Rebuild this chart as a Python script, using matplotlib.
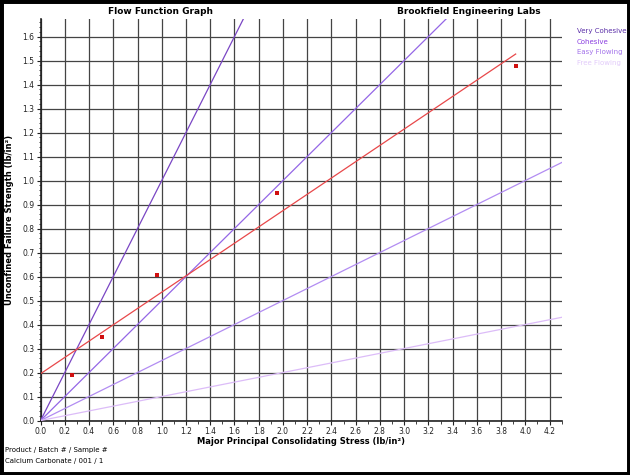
import matplotlib.pyplot as plt
from matplotlib.ticker import MultipleLocator
from matplotlib.patches import Rectangle
import numpy as np

# --- data
sample_x = [0.256, 0.51, 0.964, 1.95, 3.92]
sample_y = [0.188, 0.346, 0.607, 0.946, 1.476]
fit_x = [0.0, 3.92]
fit_y = [0.195, 1.527]

# flow function class boundaries (ffc), line y = x / ffc
class_names = ["Very Cohesive", "Cohesive", "Easy Flowing", "Free Flowing"]
class_ffc = [1, 2, 4, 10]
class_line_colors = ["#7a46c4", "#9466e6", "#b28cf2", "#dcbcf8"]
class_text_colors = ["#5a2ea8", "#8a3ee0", "#a474ea", "#e2cbfa"]

x_max = 4.3
y_max = 1.675

fig = plt.figure(figsize=(6.3, 4.75), dpi=100)
ax = fig.add_axes([0.0644, 0.1147, 0.8272, 0.8463])
ax.set_xlim(0, x_max)
ax.set_ylim(0, y_max)

ax.xaxis.set_major_locator(MultipleLocator(0.2))
ax.xaxis.set_minor_locator(MultipleLocator(0.1))
ax.yaxis.set_major_locator(MultipleLocator(0.1))
ax.yaxis.set_minor_locator(MultipleLocator(0.02))
ax.xaxis.set_major_formatter(plt.FormatStrFormatter("%.1f"))
ax.yaxis.set_major_formatter(plt.FormatStrFormatter("%.1f"))
ax.tick_params(which="major", length=3, width=0.8, labelsize=5.5, colors="#222222", pad=1.5)
ax.tick_params(which="minor", length=1.8, width=0.6, colors="#222222")

ax.grid(True, which="major", color="#444444", linewidth=0.9)
ax.set_axisbelow(True)
for side in ["top", "right"]:
    ax.spines[side].set_visible(False)
for side in ["left", "bottom"]:
    ax.spines[side].set_color("#222222")
    ax.spines[side].set_linewidth(1.2)

xs = np.array([0.0, x_max])
for ffc, col in zip(class_ffc, class_line_colors):
    ax.plot(xs, xs / ffc, color=col, linewidth=0.9, zorder=3)

ax.plot(fit_x, fit_y, color="#e8484a", linewidth=0.9, zorder=4)
ax.scatter(sample_x, sample_y, s=7, marker="s", color="#d01010", zorder=5, linewidths=0)

ax.set_xlabel("Major Principal Consolidating Stress (lb/in²)", fontsize=6, fontweight="bold", labelpad=1)
fig.text(10 / 630, 1 - 220 / 475, "Unconfined Failure Strength (lb/in²)", fontsize=6,
         fontweight="bold", rotation=90, ha="center", va="center")

fig.text(160 / 630, 1 - 11 / 475, "Flow Function Graph", fontsize=6.5, fontweight="bold",
         ha="center", va="center")
fig.text(469 / 630, 1 - 11 / 475, "Brookfield Engineering Labs", fontsize=6.5, fontweight="bold",
         ha="center", va="center")

for i, (name, col) in enumerate(zip(class_names, class_text_colors)):
    fig.text(577 / 630, 1 - (31 + i * 10.5) / 475, name, fontsize=5, color=col, ha="left", va="center")

fig.text(5 / 630, 1 - 450 / 475, "Product / Batch # / Sample #", fontsize=5, ha="left", va="center")
fig.text(5 / 630, 1 - 461 / 475, "Calcium Carbonate / 001 / 1", fontsize=5, ha="left", va="center")

# black frame round the whole picture
fig.patches.append(Rectangle((0, 0), 1, 1, transform=fig.transFigure, fill=False,
                             edgecolor="black", linewidth=5))

fig.savefig("out.png", dpi=100)
